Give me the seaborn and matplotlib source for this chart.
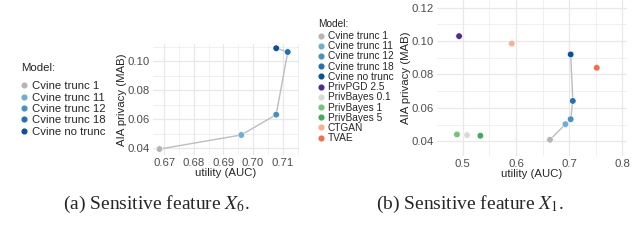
import numpy as np
import pandas as pd
import matplotlib
matplotlib.use("Agg")
import matplotlib.pyplot as plt
from matplotlib.lines import Line2D
import seaborn as sns

# panel (a): sensitive feature X6, Cvine models only
models_a = ["Cvine trunc 1", "Cvine trunc 11", "Cvine trunc 12", "Cvine trunc 18", "Cvine no trunc"]
auc_a = [0.6684, 0.6960, 0.7078, 0.7117, 0.7078]
mab_a = [0.0395, 0.0492, 0.0632, 0.1064, 0.1090]

# panel (b): sensitive feature X1, all models
models_b = ["Cvine trunc 1", "Cvine trunc 11", "Cvine trunc 12", "Cvine trunc 18", "Cvine no trunc",
            "PrivPGD 2.5", "PrivBayes 0.1", "PrivBayes 1", "PrivBayes 5", "CTGAN", "TVAE"]
auc_b = [0.664, 0.693, 0.703, 0.707, 0.703, 0.493, 0.508, 0.489, 0.533, 0.592, 0.752]
mab_b = [0.0410, 0.0503, 0.0533, 0.0642, 0.0920, 0.1029, 0.0438, 0.0442, 0.0434, 0.0985, 0.0840]

colors = {
    "Cvine trunc 1": "#b5b5b5", "Cvine trunc 11": "#6baed6", "Cvine trunc 12": "#4292c6",
    "Cvine trunc 18": "#2171b5", "Cvine no trunc": "#08519c", "PrivPGD 2.5": "#54278f",
    "PrivBayes 0.1": "#d9d9d9", "PrivBayes 1": "#74c476", "PrivBayes 5": "#41ab5d",
    "CTGAN": "#fcae91", "TVAE": "#fb6a4a",
}

sns.set_theme(style="white")
plt.rcParams["font.family"] = ["Liberation Sans", "DejaVu Sans"]
plt.rcParams["mathtext.fontset"] = "stix"

FS = 8.2
GRID = "#e8e8e8"


def draw_panel(ax, models, auc, mab, xlim, ylim, xticks, yticks, xminor, yminor, fmt):
    df = pd.DataFrame({"model": models, "auc": auc, "mab": mab})
    cv = df[df.model.str.startswith("Cvine")]
    for v in xminor:
        ax.axvline(v, color=GRID, lw=0.45, zorder=0)
    for v in yminor:
        ax.axhline(v, color=GRID, lw=0.45, zorder=0)
    for v in xticks:
        ax.axvline(v, color=GRID, lw=0.9, zorder=0)
    for v in yticks:
        ax.axhline(v, color=GRID, lw=0.9, zorder=0)
    sns.lineplot(data=cv, x="auc", y="mab", sort=False, estimator=None,
                 color="#bdbdbd", lw=1.0, ax=ax, zorder=2)
    sns.scatterplot(data=df, x="auc", y="mab", hue="model", palette=colors,
                    s=22, edgecolor="white", linewidth=0.4, legend=False, ax=ax, zorder=3)
    ax.set_xlim(*xlim)
    ax.set_ylim(*ylim)
    ax.set_xticks(xticks)
    ax.set_yticks(yticks)
    ax.set_xticklabels([fmt.format(v) for v in xticks])
    ax.set_yticklabels(["{:.2f}".format(v) for v in yticks])
    ax.tick_params(length=0, labelsize=FS, labelcolor="#4d4d4d", pad=2)
    ax.set_xlabel("utility (AUC)", fontsize=FS, labelpad=0.5)
    ax.set_ylabel("AIA privacy (MAB)", fontsize=FS, labelpad=0.5)
    for s in ax.spines.values():
        s.set_visible(False)
    ax.set_facecolor("none")


def add_legend(ax, fig, models, anchor, fs, spacing, title_gap):
    handles = [Line2D([], [], marker="o", ls="", color=colors[m], markersize=3.4) for m in models]
    leg = ax.legend(handles, models, title="Model:", loc="upper left",
                    bbox_to_anchor=anchor, bbox_transform=fig.transFigure,
                    frameon=False, fontsize=fs, title_fontsize=fs,
                    handlelength=0.5, handletextpad=0.45, labelspacing=spacing,
                    borderpad=0, borderaxespad=0, alignment="left")
    leg._legend_box.sep = title_gap
    return leg


fig = plt.figure(figsize=(6.4, 2.41), dpi=100)

ax1 = fig.add_axes([153 / 640, 1 - 155 / 241, 146 / 640, 111 / 241])
draw_panel(ax1, models_a, auc_a, mab_a, (0.6662, 0.7155), (0.0354, 0.1119),
           [0.67, 0.68, 0.69, 0.70, 0.71], [0.04, 0.06, 0.08, 0.10],
           [0.675, 0.685, 0.695, 0.705, 0.715], [0.05, 0.07, 0.09, 0.11], "{:.2f}")
add_legend(ax1, fig, models_a, (21 / 640, 1 - 63 / 241), FS, 0.12, 6)

ax2 = fig.add_axes([436.5 / 640, 1 - 156 / 241, 190 / 640, 156 / 241])
draw_panel(ax2, models_b, auc_b, mab_b, (0.4505, 0.808), (0.0313, 0.1245),
           [0.5, 0.6, 0.7, 0.8], [0.04, 0.06, 0.08, 0.10, 0.12],
           [0.45, 0.55, 0.65, 0.75], [0.03, 0.05, 0.07, 0.09, 0.11], "{:g}")
add_legend(ax2, fig, models_b, (318 / 640, 1 - 19 / 241), 7.3, 0.02, 1.5)

fig.text(157 / 640, 1 - 204 / 241, r"(a) Sensitive feature $X_6$.", ha="center", va="center",
         fontsize=14, family="Liberation Serif")
fig.text(470 / 640, 1 - 204 / 241, r"(b) Sensitive feature $X_1$.", ha="center", va="center",
         fontsize=14, family="Liberation Serif")

fig.savefig("out.png", dpi=100, facecolor="white")
